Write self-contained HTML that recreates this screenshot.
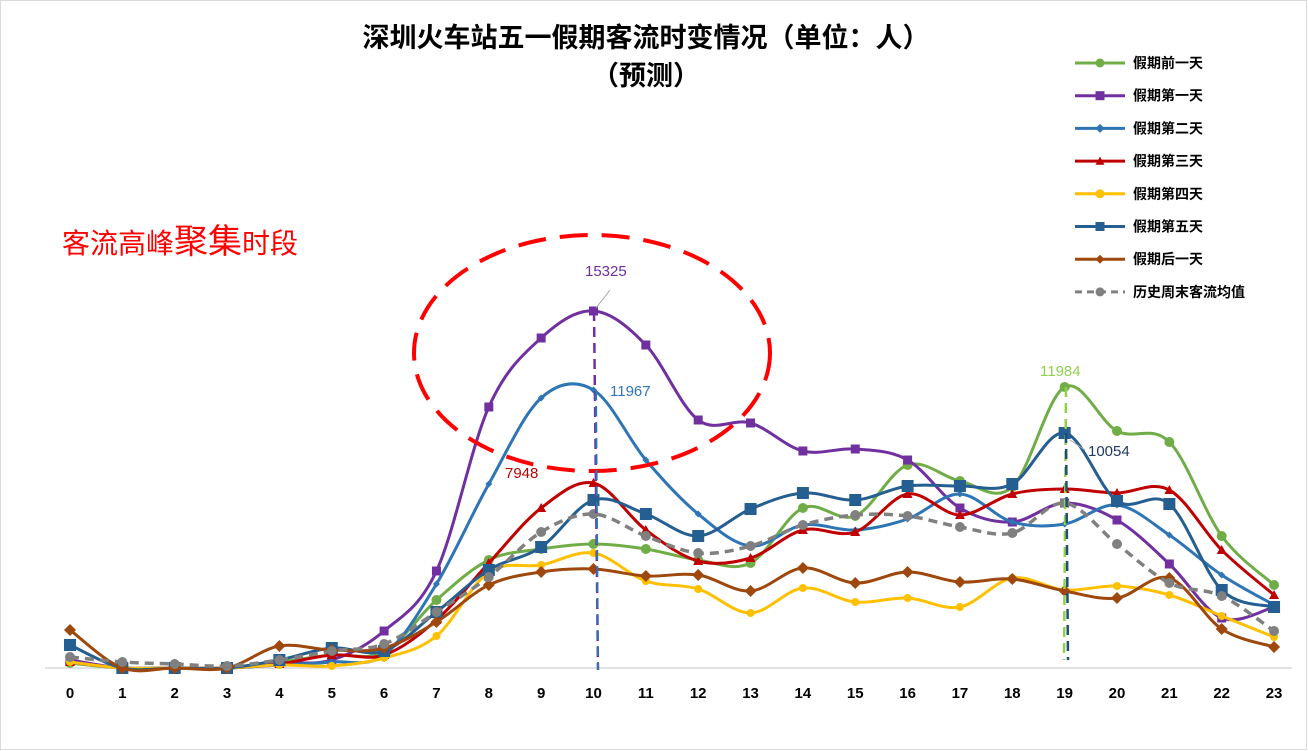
<!DOCTYPE html>
<html><head><meta charset="utf-8"><style>
body{margin:0;background:#fff;}
svg{display:block;font-family:"Liberation Sans","Noto Sans CJK SC",sans-serif;}
</style></head><body>
<svg id="s" width="1308" height="751" viewBox="0 0 1308 751">
<rect x="0.5" y="0.5" width="1306" height="749" fill="#fff" stroke="#d9d9d9"/>
<text x="646" y="47" font-size="27" font-weight="bold" text-anchor="middle" fill="#000">深圳火车站五一假期客流时变情况（单位：人）</text>
<text x="646" y="85" font-size="27" font-weight="bold" text-anchor="middle" fill="#000">（预测）</text>
<text x="62" y="253" font-size="28" fill="#ff0000">客流高峰<tspan font-size="34">聚集</tspan>时段</text>
<line x1="45" y1="668" x2="1292" y2="668" stroke="#d9d9d9" stroke-width="1.5"/>
<g id="ticks" font-size="15" font-weight="bold" text-anchor="middle"></g>
<g id="series"></g>
<ellipse cx="592" cy="353" rx="178" ry="118" fill="none" stroke="#ff0000" stroke-width="4" stroke-dasharray="28,14"/>
<line x1="594" y1="311" x2="598" y2="670" stroke="#7030a0" stroke-width="2.5" stroke-dasharray="10,6"/>
<line x1="596" y1="390" x2="598" y2="670" stroke="#2e75b6" stroke-width="2" stroke-dasharray="10,6"/>
<line x1="1066" y1="387" x2="1064" y2="660" stroke="#92d050" stroke-width="2.5" stroke-dasharray="10,6"/>
<line x1="1066" y1="433" x2="1068" y2="660" stroke="#1f4e79" stroke-width="2.5" stroke-dasharray="10,6"/>
<line x1="596" y1="308" x2="610" y2="290" stroke="#a6a6a6" stroke-width="1"/>
<line x1="1070" y1="440" x2="1085" y2="450" stroke="#a6a6a6" stroke-width="1"/>
<text x="585" y="276" font-size="15" fill="#7030a0">15325</text>
<text x="610" y="396" font-size="15" fill="#2e75b6">11967</text>
<text x="505" y="478" font-size="15" fill="#c00000">7948</text>
<text x="1040" y="376" font-size="15" fill="#92d050">11984</text>
<text x="1088" y="456" font-size="15" fill="#1f3864">10054</text>
<g id="legend" font-size="14" font-weight="bold"></g>
</svg>
<script>
var X=function(i){return 70+i*52.35;};
var S=[
["假期前一天","#70ad47","circle",3,[663,668,668,668,662,655,652,600,560,549,544,549,560,563,508,516,465,481,487,387,431,442,536,585],0],
["假期第一天","#7030a0","square",3,[660,668,668,668,663,660,631,571,407,338,311,345,420,423,451,449,460,508,522,503,520,564,618,607],0],
["假期第二天","#2e75b6","diamond",3,[662,668,668,668,665,662,655,584,484,398,390,460,514,546,525,530,519,494,522,524,505,535,575,605],0],
["假期第三天","#c00000","triangle",3,[662,668,668,668,664,655,655,620,563,508,483,530,561,558,530,532,494,515,494,489,493,490,550,595],0],
["假期第四天","#ffc000","circle",3,[662,668,668,668,665,666,658,636,572,565,553,581,589,613,588,602,598,607,578,590,586,595,616,637],0],
["假期第五天","#255e91","square",3,[645,668,668,668,660,648,651,612,570,547,500,514,536,509,493,500,486,486,484,433,501,504,590,607],0],
["假期后一天","#9e480e","diamond",3,[630,668,668,668,646,650,648,622,585,572,569,576,575,591,568,583,572,582,579,591,598,578,629,647],0],
["历史周末客流均值","#808080","circle",3,[657,662,664,666,660,651,644,612,577,532,514,536,553,546,525,515,516,527,533,503,544,583,596,631],1]
];
var NS="http://www.w3.org/2000/svg";
function el(t,a,p){var e=document.createElementNS(NS,t);for(var k in a)e.setAttribute(k,a[k]);p.appendChild(e);return e;}
function path(pts){var d="M"+pts[0][0]+","+pts[0][1];for(var i=0;i<pts.length-1;i++){var p0=pts[i-1]||pts[i],p1=pts[i],p2=pts[i+1],p3=pts[i+2]||p2;var c1x=p1[0]+(p2[0]-p0[0])/6,c1y=p1[1]+(p2[1]-p0[1])/6,c2x=p2[0]-(p3[0]-p1[0])/6,c2y=p2[1]-(p3[1]-p1[1])/6;d+=" C"+c1x+","+c1y+" "+c2x+","+c2y+" "+p2[0]+","+p2[1];}return d;}
function marker(g,type,x,y,c,sz){
 if(type=="circle")el("circle",{cx:x,cy:y,r:sz,fill:c},g);
 else if(type=="square")el("rect",{x:x-sz,y:y-sz,width:2*sz,height:2*sz,fill:c},g);
 else if(type=="diamond")el("polygon",{points:(x)+","+(y-sz)+" "+(x+sz)+","+y+" "+x+","+(y+sz)+" "+(x-sz)+","+y,fill:c},g);
 else el("polygon",{points:x+","+(y-sz)+" "+(x+sz)+","+(y+sz*0.8)+" "+(x-sz)+","+(y+sz*0.8),fill:c},g);}
var sizes={"假期前一天":5,"假期第一天":4.5,"假期第二天":3.5,"假期第三天":5,"假期第四天":4,"假期第五天":6,"假期后一天":6,"历史周末客流均值":5};
var g=document.getElementById("series"),tk=document.getElementById("ticks"),lg=document.getElementById("legend");
for(var i=0;i<24;i++){var t=el("text",{x:X(i),y:698},tk);t.textContent=i;}
S.forEach(function(s,k){var pts=s[4].map(function(y,i){return[X(i),y];});
 var a={d:path(pts),fill:"none",stroke:s[1],"stroke-width":s[5]?3.5:3};if(s[5])a["stroke-dasharray"]="9,6";el("path",a,g);
 pts.forEach(function(p){marker(g,s[2],p[0],p[1],s[1],sizes[s[0]]);});
 var ly=63+k*32.7;var la={x1:1075,y1:ly,x2:1125,y2:ly,stroke:s[1],"stroke-width":3};if(s[5])la["stroke-dasharray"]="7,5";el("line",la,lg);
 marker(lg,s[2],1100,ly,s[1],4.5);var t=el("text",{x:1133,y:ly+5},lg);t.textContent=s[0];});
</script>
</body></html>
